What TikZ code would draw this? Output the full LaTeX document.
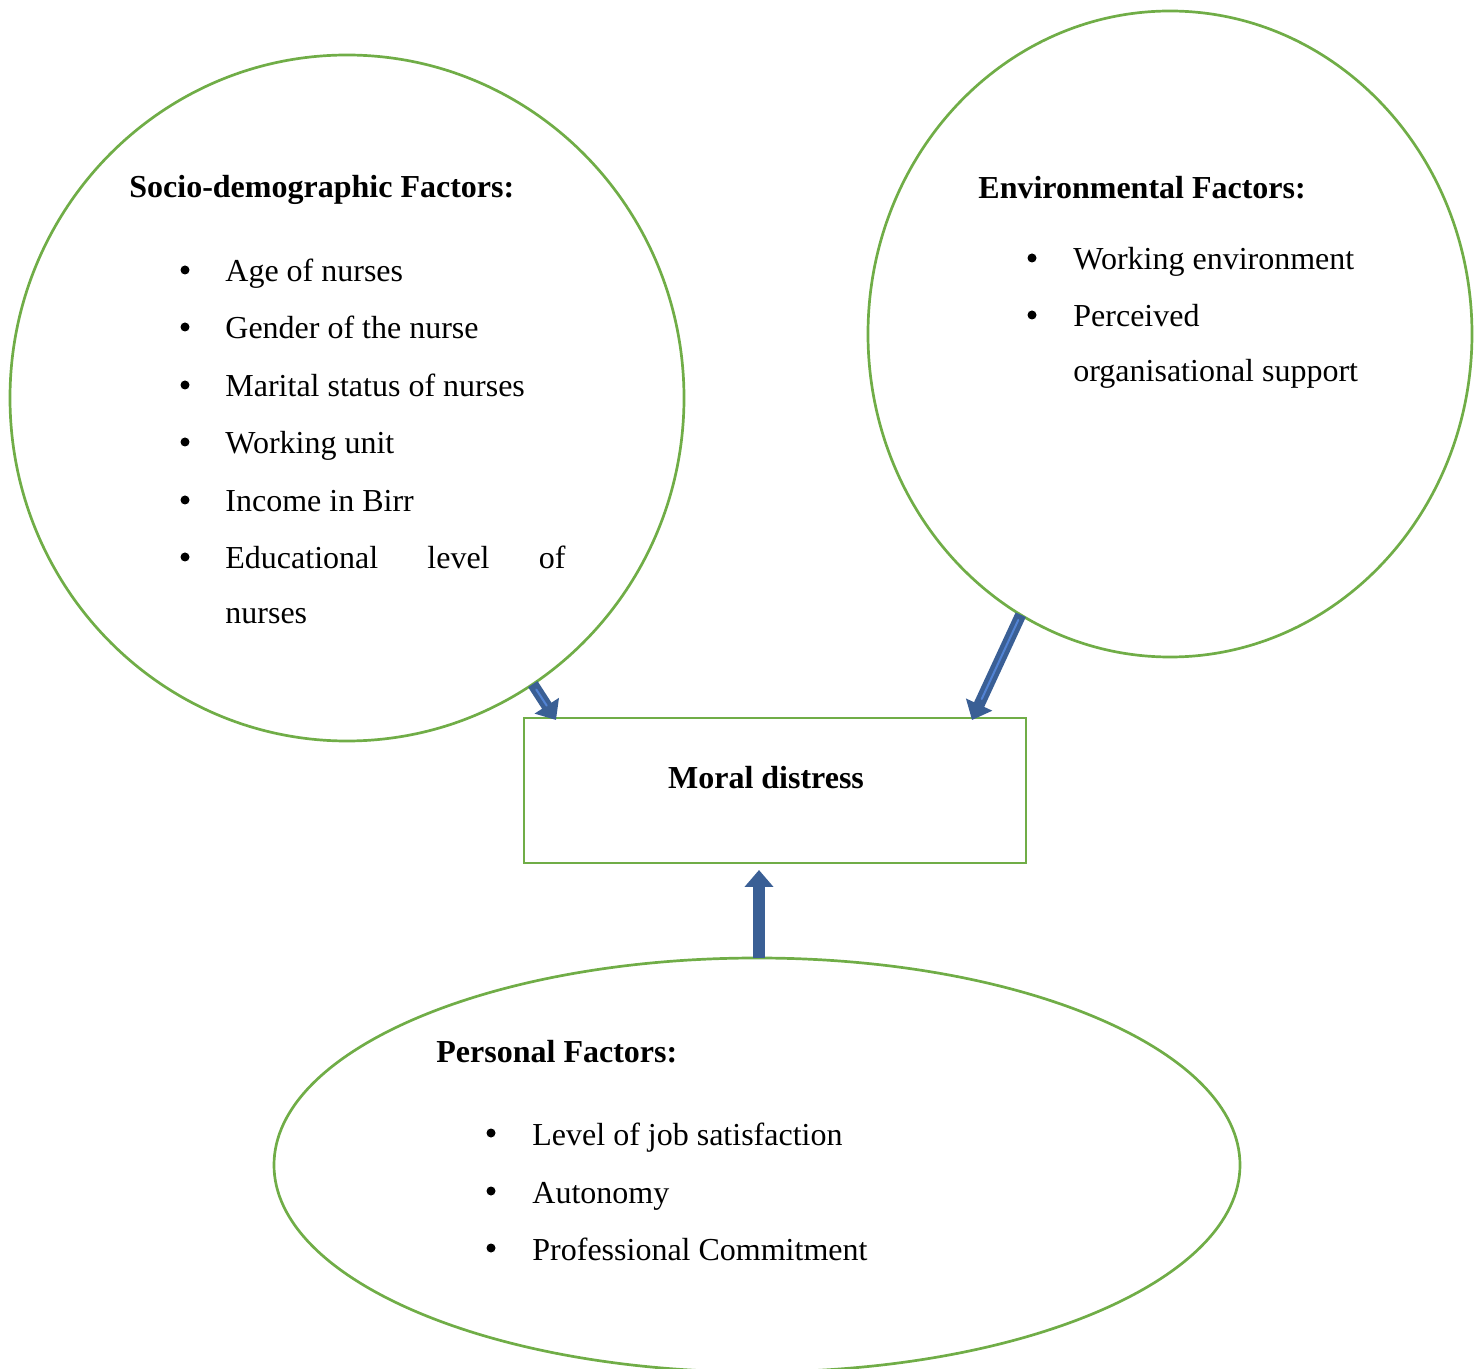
\documentclass[tikz,border=0pt]{standalone}
\usepackage{fontspec}
\setmainfont{Liberation Serif}
\usetikzlibrary{shapes.geometric,arrows.meta,calc}
\definecolor{lgreen}{HTML}{70AD47}
\definecolor{adark}{HTML}{3A5F95}
\definecolor{alight}{HTML}{5283D4}
\tikzset{
  frame/.style={draw=lgreen,line width=1.35pt,inner sep=0pt,outer sep=0pt},
  oval/.style={frame,ellipse},
  txt/.style={anchor=base west,inner sep=0pt,font=\fontsize{16}{19}\selectfont},
  ttl/.style={txt,font=\fontsize{16}{19}\selectfont\bfseries},
  blt/.style={fill=black},
  barrow/.style={draw=adark,line width=5.6pt,-{Triangle[length=8.5pt,width=14pt]}},
  inner/.style={draw=alight,line width=1pt,line cap=round}
}
\begin{document}
\begin{tikzpicture}[x=0.5pt,y=-0.5pt]
\useasboundingbox (0,0) rectangle (1480,1369);
% shapes
\node[oval,minimum width=337pt,minimum height=343pt] (soc) at (347,398) {};
\node[oval,minimum width=302pt,minimum height=323pt] (env) at (1170,334) {};
\node[oval,minimum width=483pt,minimum height=207pt] (pers) at (757,1165) {};
\node[frame,rectangle,minimum width=251pt,minimum height=72.5pt] (md) at (775,790.5) {};
% texts
\node[ttl] (t1) at (129,198) {Socio-demographic Factors:};
\foreach \y/\t [count=\i] in {270/Age of nurses,327/Gender of the nurse,385/Marital status of nurses,442/Working unit,500/Income in Birr}{
  \fill[blt] (185,\y) circle[radius=4.5];
  \node[txt] (s\i) at (225,\y+12) {\t};
}
\fill[blt] (185,557) circle[radius=4.5];
\node[txt,anchor=north west,text width=170pt,align=justify,font=\fontsize{16}{27.5}\selectfont] (s6) at (225,546) {Educational level of\linebreak nurses};

\node[ttl] (t2) at (978,199) {Environmental Factors:};
\fill[blt] (1032,258) circle[radius=4.5];
\node[txt] (e1) at (1073,270) {Working environment};
\fill[blt] (1032,315) circle[radius=4.5];
\node[txt] (e2) at (1073,327) {Perceived};
\node[txt] (e3) at (1073,382) {organisational support};

\node[ttl] (t3) at (436,1062) {Personal Factors:};
\foreach \y/\t [count=\i] in {1133/Level of job satisfaction,1191/Autonomy,1248/Professional Commitment}{
  \fill[blt] (491,\y) circle[radius=4.5];
  \node[txt] (p\i) at (532,\y+12) {\t};
}
\node[ttl,anchor=base] (mdt) at (766,789) {Moral distress};
% arrows
\draw[barrow] (soc.-57.5) -- ($(md.north west)+(32,2)$);
\draw[inner] ($(soc.-57.5)!0.15!($(md.north west)+(32,2)$)$) -- ($(soc.-57.5)!0.6!($(md.north west)+(32,2)$)$);
\draw[barrow] (env.242.6) -- ($(md.north east)+(-54,2)$);
\draw[inner] ($(env.242.6)!0.05!($(md.north east)+(-54,2)$)$) -- ($(env.242.6)!0.8!($(md.north east)+(-54,2)$)$);
\draw[barrow] ($(pers.north)+(2,0)$) -- ($(md.south)+(-16,7)$);
\end{tikzpicture}
\end{document}
